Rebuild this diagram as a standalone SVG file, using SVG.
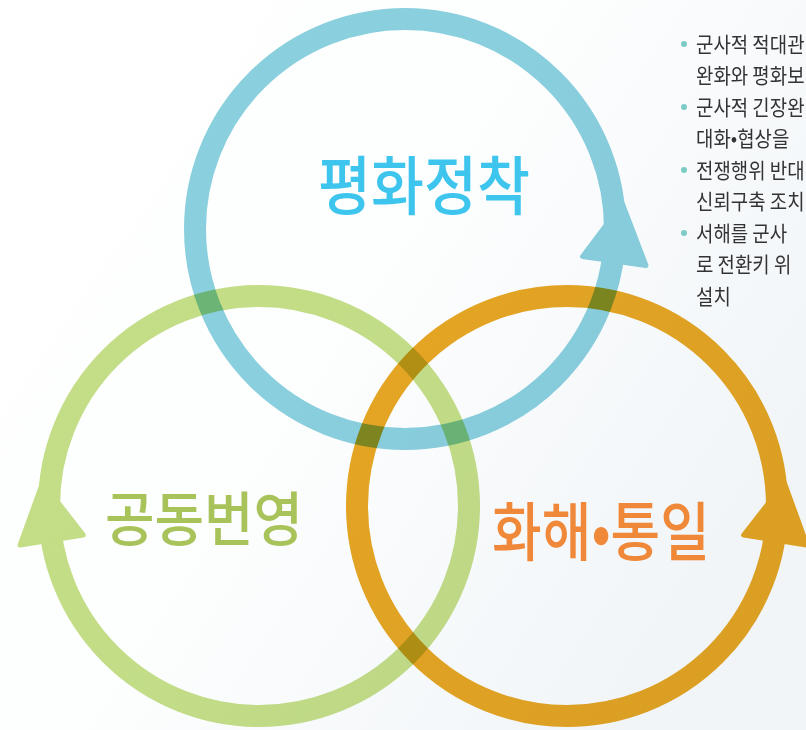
<svg xmlns="http://www.w3.org/2000/svg" width="806" height="730" viewBox="0 0 806 730">
  <defs>
    <linearGradient id="bg" x1="0" y1="0" x2="1" y2="0.6">
      <stop offset="0" stop-color="#ffffff"/>
      <stop offset="0.5" stop-color="#fdfefe"/>
      <stop offset="1" stop-color="#f1f5f8"/>
    </linearGradient>
    <path id="arrowhead" d="M -32 -2 L 32 -2 L 0 -60 Z" stroke-width="5" stroke-linejoin="round"/>
    <style>
      .ring { mix-blend-mode: multiply; }
      .ring circle { fill: none; stroke-width: 22; }
      .blue circle { stroke: #8bd0df; }
      .blue use { fill: #8bd0df; stroke: #8bd0df; }
      .green circle { stroke: #c5de88; }
      .green use { fill: #c5de88; stroke: #c5de88; }
      .orange circle { stroke: #e8a624; }
      .orange use { fill: #e8a624; stroke: #e8a624; }
      .title { font-family: "Noto Sans CJK KR", "Noto Sans", sans-serif; text-anchor: middle; font-weight: 500; }
      .body { font-family: "Noto Sans CJK KR", "Noto Sans", sans-serif; font-size: 21px; fill: #333333; }
      .bullet { fill: #7ccbc5; }
    </style>
  </defs>
  <rect x="0" y="0" width="806" height="730" fill="url(#bg)"/>

  <g id="connectors"></g>

  <g id="peace">
    <g class="ring blue">
      <circle cx="405" cy="229" r="210"/>
      <use href="#arrowhead" transform="translate(614 263) rotate(8)"/>
    </g>
    <text class="title" x="424" y="209" font-size="64" fill="#3ec5ee" textLength="212" lengthAdjust="spacingAndGlyphs">평화정착</text>
  </g>

  <g id="prosperity">
    <g class="ring green">
      <circle cx="259" cy="506" r="210"/>
      <use href="#arrowhead" transform="translate(52 542) rotate(-9)"/>
    </g>
    <text class="title" x="204" y="541" font-size="59" fill="#a9c35b" textLength="198" lengthAdjust="spacingAndGlyphs">공동번영</text>
  </g>

  <g id="reconciliation">
    <g class="ring orange">
      <circle cx="567" cy="506" r="210"/>
      <use href="#arrowhead" transform="translate(775 542) rotate(9)"/>
    </g>
    <text class="title" x="601" y="555" font-size="64" fill="#f0883a" textLength="218" lengthAdjust="spacingAndGlyphs">화해•통일</text>
  </g>

  <g id="notes">
    <circle class="bullet" cx="684" cy="44" r="3"/>
    <circle class="bullet" cx="684" cy="107" r="3"/>
    <circle class="bullet" cx="684" cy="170" r="3"/>
    <circle class="bullet" cx="684" cy="233" r="3"/>
    <g transform="translate(696 0) scale(0.9 1)">
      <text class="body" x="0" y="52">군사적 적대관</text>
      <text class="body" x="0" y="83.5">완화와 평화보</text>
      <text class="body" x="0" y="115">군사적 긴장완</text>
      <text class="body" x="0" y="146.5">대화•협상을</text>
      <text class="body" x="0" y="178">전쟁행위 반대</text>
      <text class="body" x="0" y="209.5">신뢰구축 조치</text>
      <text class="body" x="0" y="241">서해를 군사</text>
      <text class="body" x="0" y="272.5">로 전환키 위</text>
      <text class="body" x="0" y="304">설치</text>
    </g>
  </g>
</svg>
